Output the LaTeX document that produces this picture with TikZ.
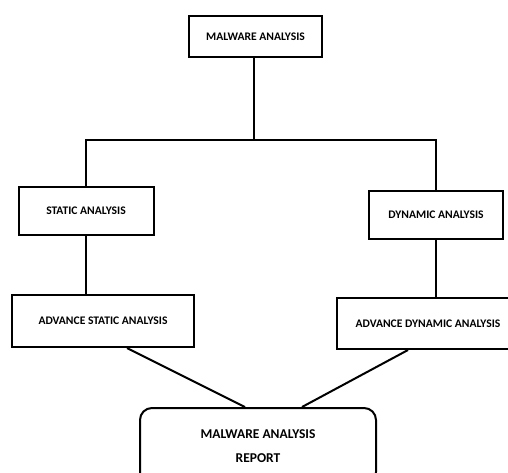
\documentclass[tikz,border=0pt]{standalone}
\usepackage{fontspec}
\setmainfont{Carlito}
\usepackage{tikz}
\usetikzlibrary{positioning,calc}

\begin{document}
\begin{tikzpicture}[x=1pt,y=-1pt,line width=2pt,every node/.style={font=\bfseries\fontsize{11.6}{14}\selectfont},
  stagebox/.style={draw,rectangle,line width=2pt,inner sep=0pt},
  reportbox/.style={draw,rectangle,rounded corners=12pt,line width=2pt,align=center,inner sep=0pt,
    font=\bfseries\fontsize{13.5}{16}\selectfont}]
\useasboundingbox (0,0) rectangle (508,472);
\node[stagebox,minimum width=133,minimum height=41] (malware) at (255.5,36.5) {MALWARE ANALYSIS};
\coordinate (hub) at (254,140);
\node[stagebox,minimum width=135,minimum height=48] (static) at (86,211) {STATIC ANALYSIS};
\node[stagebox,minimum width=134,minimum height=48] (dynamic) at (436,215) {DYNAMIC ANALYSIS};
\node[stagebox,minimum width=182,minimum height=52] (advstatic) at (103,321) {ADVANCE STATIC ANALYSIS};
\node[stagebox,minimum width=182,minimum height=51] (advdynamic) at (428,323.5) {ADVANCE DYNAMIC ANALYSIS};
\node[reportbox,minimum width=236,minimum height=76] (report) at (258,446) {MALWARE ANALYSIS\\[8pt]REPORT};
\draw (malware.south -| hub) -- (hub);
\draw (hub) -| (static);
\draw (hub) -| (dynamic);
\draw (static.south) -- (static.south |- advstatic.north);
\draw (dynamic.south) -- (dynamic.south |- advdynamic.north);
\draw ([xshift=24]advstatic.south) -- ([xshift=-13]report.north);
\draw ([xshift=-20]advdynamic.south) -- ([xshift=44]report.north);
\end{tikzpicture}
\end{document}
